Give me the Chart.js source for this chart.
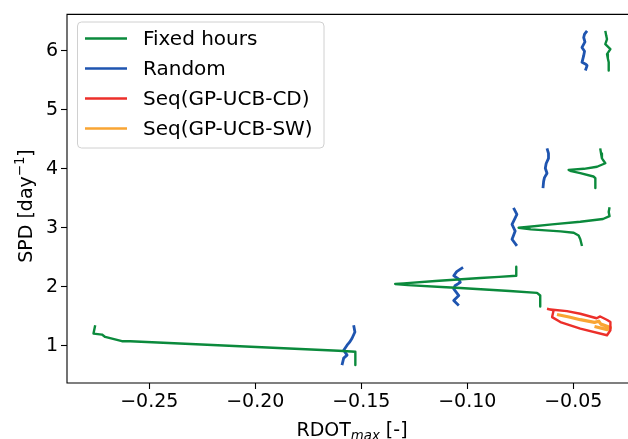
<!DOCTYPE html>
<html>
<head>
<meta charset="utf-8">
<script src="https://cdn.jsdelivr.net/npm/chart.js@4.4.1/dist/chart.umd.min.js"></script>
<style>
html,body{margin:0;padding:0;background:#fff;overflow:hidden;width:628px;height:439px;}
#wrap{width:628px;height:439px;}
</style>
</head>
<body>
<div id="wrap"><canvas id="c" width="628" height="439"></canvas></div>
<script>
// ---- data (null separates the clusters of a series) ----
const seriesNames = ["Fixed hours", "Random", "Seq(GP-UCB-CD)", "Seq(GP-UCB-SW)"];
const seriesColors = ["#0b8a3c", "#1f55b0", "#ec2f2a", "#f9a533"];

const fixedX = [
  -0.2755, -0.2763, -0.2723, -0.2708, -0.2629, -0.2590, -0.1607, -0.1528, -0.1528, null,
  -0.0769, -0.0769, -0.0850, -0.0939, -0.1150, -0.1300, -0.1340, -0.1280, -0.1100, -0.1033, -0.0800, -0.0671, -0.0656, -0.0656, null,
  -0.0329, -0.0333, -0.0329, -0.0360, -0.0467, -0.0600, -0.0720, -0.0758, -0.0700, -0.0560, -0.0498, -0.0475, -0.0467, -0.0459, null,
  -0.0373, -0.0369, -0.0365, -0.0349, -0.0388, -0.0450, -0.0522, -0.0510, -0.0467, -0.0405, -0.0396, -0.0396, null,
  -0.0349, -0.0345, -0.0341, -0.0349, -0.0325, -0.0341, -0.0337, -0.0333, -0.0333
];
const fixedY = [
  1.35, 1.21, 1.193, 1.153, 1.081, 1.081, 0.918, 0.901, 0.677, null,
  2.341, 2.19, 2.17, 2.151, 2.10, 2.06, 2.05, 2.03, 1.995, 1.983, 1.93, 1.899, 1.854, 1.669, null,
  3.350, 3.27, 3.198, 3.15, 3.103, 3.06, 3.015, 3.002, 2.975, 2.94, 2.918, 2.87, 2.807, 2.694, null,
  4.346, 4.26, 4.178, 4.094, 4.035, 4.00, 3.983, 3.96, 3.926, 3.87, 3.842, 3.674, null,
  6.336, 6.26, 6.195, 6.111, 6.027, 5.943, 5.87, 5.803, 5.664
];

const randomX = [
  -0.1536, -0.1530, -0.1544, -0.1556, -0.1567, -0.1583, -0.1567, -0.1583, -0.1591, null,
  -0.1020, -0.1050, -0.1064, -0.1040, -0.1033, -0.1058, -0.1064, -0.1040, -0.1064, -0.1040, null,
  -0.0782, -0.0766, -0.0778, -0.0789, -0.0774, -0.0782, -0.0789, -0.0766, null,
  -0.0624, -0.0617, -0.0617, -0.0628, -0.0632, -0.0624, -0.0636, -0.0640, -0.0643, null,
  -0.0435, -0.0447, -0.0451, -0.0445, -0.0459, -0.0447, -0.0451, -0.0459, -0.0441, -0.0435, -0.0443
];
const randomY = [
  1.35, 1.237, 1.126, 1.06, 1.013, 0.929, 0.845, 0.795, 0.677, null,
  2.33, 2.26, 2.19, 2.13, 2.077, 2.02, 1.966, 1.854, 1.77, 1.686, null,
  3.338, 3.227, 3.14, 3.059, 2.946, 2.87, 2.807, 2.694, null,
  4.346, 4.26, 4.178, 4.09, 4.010, 3.926, 3.85, 3.787, 3.674, null,
  6.336, 6.28, 6.224, 6.15, 6.055, 5.99, 5.916, 5.803, 5.77, 5.748, 5.664
];

const seqCDX = [-0.0624, -0.0593, -0.0600, -0.0561, -0.0467, -0.0341, -0.0325, -0.0325, -0.0340, -0.0373, -0.0390, -0.0467, -0.0530, -0.0608];
const seqCDY = [1.630, 1.602, 1.489, 1.405, 1.294, 1.181, 1.266, 1.405, 1.44, 1.50, 1.47, 1.546, 1.590, 1.618];

const seqSWX = [-0.0577, -0.0520, -0.0467, -0.0400, -0.0380, -0.0370, -0.0325, -0.0340, -0.0400];
const seqSWY = [1.534, 1.49, 1.445, 1.40, 1.42, 1.37, 1.311, 1.277, 1.33];

const xTicks = [-0.25, -0.20, -0.15, -0.10, -0.05];
const yTicks = [1, 2, 3, 4, 5, 6];

// ---- build ----
function pts(xs, ys){ return xs.map((x,i)=> (x===null||ys[i]===null) ? {x:null,y:null} : {x:x, y:ys[i]}); }
const allX = [fixedX, randomX, seqCDX, seqSWX];
const allY = [fixedY, randomY, seqCDY, seqSWY];
const widths = [2.4, 2.8, 2.4, 3.2];

const datasets = seriesNames.map((n,i)=>({
  label: n,
  data: pts(allX[i], allY[i]),
  borderColor: seriesColors[i],
  backgroundColor: seriesColors[i],
  borderWidth: widths[i],
  pointRadius: 0,
  fill: false,
  tension: 0,
  spanGaps: false,
  borderJoinStyle: 'round',
  borderCapStyle: 'butt'
}));

const FONT = "'DejaVu Sans', sans-serif";

const framePlugin = {
  id: 'frame',
  afterDatasetsDraw(chart){
    const {ctx, chartArea:a} = chart;
    ctx.save();
    ctx.strokeStyle = '#000';
    ctx.lineWidth = 1.1;
    ctx.beginPath();
    ctx.moveTo(a.right + 2, a.top);
    ctx.lineTo(a.left, a.top);
    ctx.lineTo(a.left, a.bottom);
    ctx.lineTo(a.right + 2, a.bottom);
    ctx.stroke();
    ctx.restore();
  },
  afterDraw(chart){
    const {ctx, chartArea:a} = chart;
    ctx.save();
    // legend
    const lx = 77.5, ly = 22, lw = 246.5, lh = 126, r = 4;
    ctx.beginPath();
    ctx.moveTo(lx + r, ly);
    ctx.arcTo(lx + lw, ly, lx + lw, ly + lh, r);
    ctx.arcTo(lx + lw, ly + lh, lx, ly + lh, r);
    ctx.arcTo(lx, ly + lh, lx, ly, r);
    ctx.arcTo(lx, ly, lx + lw, ly, r);
    ctx.closePath();
    ctx.fillStyle = 'rgba(255,255,255,0.8)';
    ctx.fill();
    ctx.strokeStyle = '#d0d0d0';
    ctx.lineWidth = 1;
    ctx.stroke();
    ctx.font = "20px " + FONT;
    ctx.textBaseline = 'middle';
    ctx.textAlign = 'left';
    chart.data.datasets.forEach((ds, i) => {
      const y = 38.5 + i * 30;
      ctx.beginPath();
      ctx.moveTo(85, y); ctx.lineTo(127, y);
      ctx.strokeStyle = ds.borderColor;
      ctx.lineWidth = 2.6;
      ctx.stroke();
      ctx.fillStyle = '#000';
      ctx.fillText(ds.label, 143, y + 1);
    });
    // x title: RDOT_max [-]
    const cx = 352;
    const base = 436;
    const f1 = "19px " + FONT, f2 = "italic 13.3px " + FONT, f3 = "13.3px " + FONT;
    ctx.font = f1; const w1 = ctx.measureText('RDOT').width; const w3 = ctx.measureText(' [-]').width;
    ctx.font = f2; const w2 = ctx.measureText('max').width;
    let x0 = cx - (w1 + w2 + w3) / 2;
    ctx.textBaseline = 'alphabetic';
    ctx.fillStyle = '#000';
    ctx.font = f1; ctx.fillText('RDOT', x0, base);
    ctx.font = f2; ctx.fillText('max', x0 + w1, base + 4);
    ctx.font = f1; ctx.fillText(' [-]', x0 + w1 + w2, base);
    // y title: SPD [day^-1]
    ctx.translate(32, 206);
    ctx.rotate(-Math.PI / 2);
    const s1 = 'SPD [day', s2 = '\u22121', s3 = ']';
    ctx.font = f1; const v1 = ctx.measureText(s1).width; const v3 = ctx.measureText(s3).width;
    ctx.font = f3; const v2 = ctx.measureText(s2).width;
    let y0 = -(v1 + v2 + v3) / 2;
    ctx.font = f1; ctx.fillText(s1, y0, 0);
    ctx.font = f3; ctx.fillText(s2, y0 + v1, -8);
    ctx.font = f1; ctx.fillText(s3, y0 + v1 + v2, 0);
    ctx.restore();
  }
};

new Chart(document.getElementById('c'), {
  type: 'line',
  data: { datasets },
  options: {
    responsive: false,
    animation: false,
    events: [],
    layout: { padding: { top: 12, right: 0, left: 0, bottom: 0 } },
    plugins: { legend: { display: false }, tooltip: { enabled: false } },
    scales: {
      x: {
        type: 'linear',
        min: -0.2888, max: -0.0242,
        afterFit(s){ s.height = 56; },
        afterBuildTicks(s){ s.ticks = xTicks.map(v => ({value: v})); },
        border: { display: false },
        grid: { display: true, drawOnChartArea: false, drawTicks: true, tickLength: 6, tickColor: '#000', tickWidth: 1.1 },
        ticks: {
          color: '#000', font: { family: FONT, size: 19 }, padding: 2, maxRotation: 0, autoSkip: false,
          callback: v => (v < 0 ? '\u2212' : '') + Math.abs(v).toFixed(2)
        }
      },
      y: {
        type: 'linear',
        min: 0.373, max: 6.615,
        afterFit(s){ s.width = 67; },
        afterBuildTicks(s){ s.ticks = yTicks.map(v => ({value: v})); },
        border: { display: false },
        grid: { display: true, drawOnChartArea: false, drawTicks: true, tickLength: 6, tickColor: '#000', tickWidth: 1.1 },
        ticks: { color: '#000', font: { family: FONT, size: 19 }, padding: 3, autoSkip: false, callback: v => String(v) }
      }
    }
  },
  plugins: [framePlugin]
});
</script>
</body>
</html>
